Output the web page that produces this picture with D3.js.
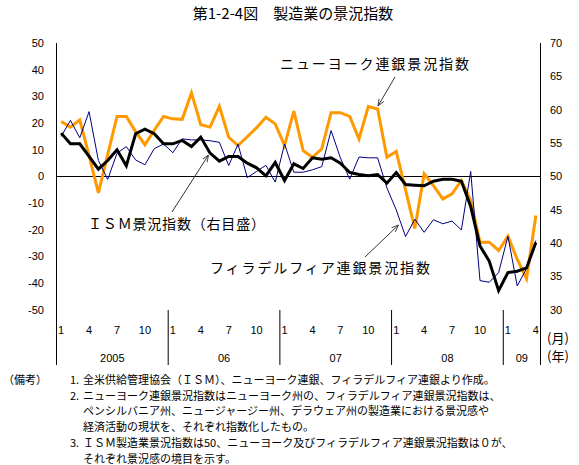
<!DOCTYPE html>
<html>
<head>
<meta charset="utf-8">
<script src="https://cdn.jsdelivr.net/npm/d3@7"></script>
<style>
  body { margin:0; background:#fff; }
  svg text { font-family:"Noto Sans CJK JP","Noto Sans",sans-serif; fill:#000; }
</style>
</head>
<body>
<div id="chart"></div>
<script>
// 製造業の景況指数 — NY / Philly Fed (left axis), ISM (right axis)
const years = ['2005','06','07','08','09'];
const monthsPerYear = [12,12,12,12,4];
const monthTicks = [1,4,7,10];
const leftTicks = [50,40,30,20,10,0,-10,-20,-30,-40,-50];
const rightTicks = [70,65,60,55,50,45,40,35,30];

const nyFed = [20.6,18.5,21.2,7.8,-6.1,8.2,22.5,22.5,16.8,11.9,17.3,22.5,
  21.6,21.4,31.3,19.4,18.5,26.3,14.7,11.6,14.9,18.3,22.2,19.7,
  11.6,24.5,9.7,7.2,10.4,23.9,23.9,22.5,14.1,26.2,25.3,7.2,
  9.4,-5,-19.5,1,-3.4,-8.4,-6.5,-1.5,-9,-24.6,-24.6,-27.7,
  -22.4,-31,-38.3,-14.6];
const phillyFed = [15,21,14.5,24.3,6,-1.1,8.7,11.2,6.2,4.4,10.4,12.2,
  8.9,14.1,13.7,13.7,13.4,12.8,4.1,12.1,-0.4,1.9,4.2,-2.1,
  12.2,1.6,1.6,2.5,3.7,17.2,7,-1,7.3,7,7,-4.3,
  -12.5,-22.5,-16,-20.9,-16.2,-17.7,-16.7,-20,1.9,-39,-39.6,-36,
  -22.4,-41,-34.5,-24];
const ism = [56.5,54.9,54.9,53.0,51.1,52.4,54.0,51.6,56.4,57.1,56.4,54.9,
  54.9,55.4,54.5,55.9,53.5,52.3,53,53,52,51.3,50.1,52.1,
  49.4,51.9,51.2,52.8,52.6,52.8,52,50.6,50.3,50.1,50.3,49,
  50.6,48.8,48.7,48.6,49.3,49.6,49.6,49.3,45.5,39.6,37.3,32.9,
  35.6,35.8,36.3,40.1];

const notes = [
  ['（備考）','1.','全米供給管理協会（ＩＳＭ）、ニューヨーク連銀、フィラデルフィア連銀より作成。'],
  ['','2.','ニューヨーク連銀景況指数はニューヨーク州の、フィラデルフィア連銀景況指数は、'],
  ['','','ペンシルバニア州、ニュージャージー州、デラウェア州の製造業における景況感や'],
  ['','','経済活動の現状を、それぞれ指数化したもの。'],
  ['','3.','ＩＳＭ製造業景況指数は50、ニューヨーク及びフィラデルフィア連銀景況指数は０が、'],
  ['','','それぞれ景況感の境目を示す。']
];

(function() {
  const W = 579, H = 465;
  const L = 56.5, R = 540.5, T = 43, B = 310;

  const cats = [];
  years.forEach((y,yi)=>{ for(let m=1;m<=monthsPerYear[yi];m++) cats.push({y:yi,m:m}); });
  const idx = cats.map((_,i)=>i);

  const x = d3.scaleBand().domain(idx).range([L,R]);
  const cx = i => x(i) + x.bandwidth()/2;
  const yL = d3.scaleLinear().domain([-50,50]).range([B,T]);
  const yR = d3.scaleLinear().domain([30,70]).range([B,T]);

  const svg = d3.select('#chart').append('svg').attr('width',W).attr('height',H);

  const defs = svg.append('defs');
  defs.append('marker').attr('id','ah').attr('viewBox','0 0 10 10').attr('refX',10).attr('refY',5)
    .attr('markerWidth',7).attr('markerHeight',7).attr('orient','auto').attr('markerUnits','userSpaceOnUse')
    .append('path').attr('d','M0,1 L10,5 L0,9').attr('fill','none').attr('stroke','#333').attr('stroke-width',1.2);

  // Title
  svg.append('text').attr('x',293).attr('y',19).attr('text-anchor','middle')
    .style('font-size','15px').text('第1-2-4図　製造業の景況指数');

  // Axes lines
  svg.append('line').attr('x1',L).attr('x2',L).attr('y1',T).attr('y2',365).attr('stroke','#000');
  svg.append('line').attr('x1',R).attr('x2',R).attr('y1',T).attr('y2',365).attr('stroke','#000');
  svg.append('line').attr('x1',L).attr('x2',R).attr('y1',yL(0)).attr('y2',yL(0)).attr('stroke','#000');

  // Left/right tick labels
  svg.append('g').selectAll('text').data(leftTicks).join('text')
    .attr('x',44).attr('y',d=>yL(d)).attr('dy','0.35em').attr('text-anchor','end')
    .style('font-family','"Liberation Sans",sans-serif').style('font-size','11px').text(d=>d);
  svg.append('g').selectAll('text').data(rightTicks).join('text')
    .attr('x',550).attr('y',d=>yR(d)).attr('dy','0.35em')
    .style('font-family','"Liberation Sans",sans-serif').style('font-size','11px').text(d=>d);

  // Category axis: months, years, separators
  const catG = svg.append('g');
  catG.selectAll('text.m').data(cats.map((c,i)=>({c,i})).filter(d=>monthTicks.includes(d.c.m))).join('text')
    .attr('class','m').attr('x',d=>cx(d.i)).attr('y',330).attr('dy','0.35em').attr('text-anchor','middle')
    .style('font-family','"Liberation Sans",sans-serif').style('font-size','11px').text(d=>d.c.m);
  let start = 0;
  years.forEach((yr,yi)=>{
    const x0 = x(start), x1 = x(start+monthsPerYear[yi]-1)+x.bandwidth();
    if (yi>0) catG.append('line').attr('x1',x0).attr('x2',x0).attr('y1',B).attr('y2',365).attr('stroke','#000');
    catG.append('text').attr('x',(x0+x1)/2).attr('y',358).attr('dy','0.35em').attr('text-anchor','middle')
      .style('font-family','"Liberation Sans",sans-serif').style('font-size','11px').text(yr);
    start += monthsPerYear[yi];
  });
  svg.append('text').attr('x',547).attr('y',338).attr('dy','0.35em').style('font-size','13px').text('(月)');
  svg.append('text').attr('x',547).attr('y',356).attr('dy','0.35em').style('font-size','13px').text('(年)');

  // Series
  const lineL = d3.line().x((d,i)=>cx(i)).y(d=>yL(d));
  const lineR = d3.line().x((d,i)=>cx(i)).y(d=>yR(d));
  svg.append('path').datum(nyFed).attr('d',lineL).attr('fill','none').attr('stroke','#ff9900').attr('stroke-width',3);
  svg.append('path').datum(phillyFed).attr('d',lineL).attr('fill','none').attr('stroke','#000080').attr('stroke-width',1);
  svg.append('path').datum(ism).attr('d',lineR).attr('fill','none').attr('stroke','#000').attr('stroke-width',3);

  // Annotations
  const ann = [
    {t:'ニューヨーク連銀景況指数', x:280, y:64, w:189, a:[395,77,378,106]},
    {t:'ＩＳＭ景況指数（右目盛）', x:88, y:224, w:177, a:[172,212,208.5,155]},
    {t:'フィラデルフィア連銀景況指数', x:210, y:268, w:220, a:[365,257,398.5,225]}
  ];
  ann.forEach(d=>{
    svg.append('text').attr('x',d.x).attr('y',d.y).attr('dy','0.35em')
      .attr('textLength',d.w).attr('lengthAdjust','spacing').style('font-size','14px').text(d.t);
    svg.append('line').attr('x1',d.a[0]).attr('y1',d.a[1]).attr('x2',d.a[2]).attr('y2',d.a[3])
      .attr('stroke','#333').attr('stroke-width',1).attr('marker-end','url(#ah)');
  });

  // Notes
  const ng = svg.append('g').style('font-size','11px');
  notes.forEach((n,i)=>{
    const yy = 380 + i*15.8;
    if (n[0]) ng.append('text').attr('x',3).attr('y',yy).attr('dy','0.35em').text(n[0]);
    if (n[1]) ng.append('text').attr('x',70).attr('y',yy).attr('dy','0.35em').text(n[1]);
    ng.append('text').attr('x',83).attr('y',yy).attr('dy','0.35em').text(n[2]);
  });
})();
</script>
</body>
</html>
